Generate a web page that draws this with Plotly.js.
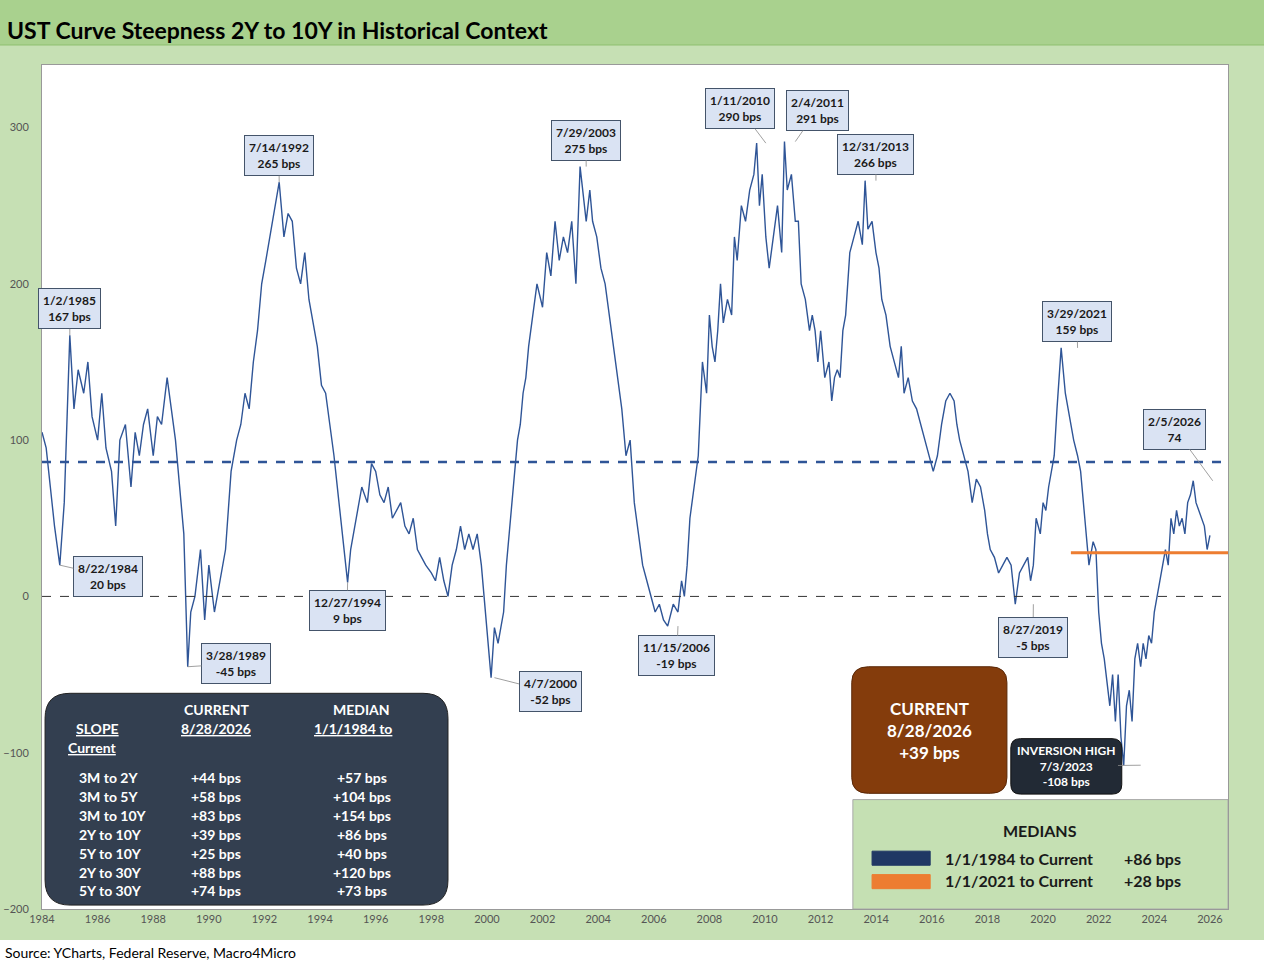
<!DOCTYPE html>
<html><head><script src="https://cdn.plot.ly/plotly-3.0.1.min.js"></script>
<style>body{margin:0;background:#fff}</style></head><body>
<div id="c" style="width:1264px;height:970px"></div>
<script>
const years=[1984.0,1984.15,1984.3,1984.45,1984.64,1984.8,1985.0,1985.15,1985.3,1985.5,1985.65,1985.8,1986.0,1986.15,1986.3,1986.5,1986.65,1986.8,1987.0,1987.2,1987.35,1987.5,1987.65,1987.8,1988.0,1988.15,1988.3,1988.5,1988.65,1988.8,1989.0,1989.1,1989.24,1989.35,1989.5,1989.7,1989.85,1990.0,1990.2,1990.4,1990.6,1990.8,1991.0,1991.15,1991.3,1991.45,1991.6,1991.75,1991.9,1992.05,1992.2,1992.35,1992.53,1992.7,1992.85,1993.0,1993.15,1993.3,1993.45,1993.6,1993.75,1993.9,1994.05,1994.2,1994.35,1994.5,1994.65,1994.8,1994.99,1995.1,1995.3,1995.5,1995.7,1995.85,1996.0,1996.15,1996.3,1996.45,1996.6,1996.75,1996.9,1997.05,1997.2,1997.35,1997.5,1997.65,1997.8,1998.0,1998.15,1998.3,1998.45,1998.6,1998.75,1998.9,1999.05,1999.2,1999.35,1999.5,1999.65,1999.8,2000.0,2000.15,2000.27,2000.4,2000.5,2000.6,2000.7,2000.9,2001.1,2001.2,2001.3,2001.4,2001.5,2001.65,2001.8,2002.0,2002.15,2002.3,2002.45,2002.6,2002.75,2002.9,2003.05,2003.2,2003.35,2003.57,2003.7,2003.8,2003.95,2004.1,2004.25,2004.4,2004.55,2004.7,2004.85,2005.0,2005.15,2005.3,2005.45,2005.6,2005.75,2005.9,2006.05,2006.2,2006.35,2006.5,2006.7,2006.87,2007.0,2007.1,2007.2,2007.3,2007.45,2007.6,2007.75,2007.9,2008.0,2008.1,2008.2,2008.3,2008.4,2008.5,2008.65,2008.8,2008.9,2009.0,2009.15,2009.3,2009.45,2009.6,2009.7,2009.8,2009.9,2010.03,2010.15,2010.3,2010.45,2010.6,2010.7,2010.8,2010.95,2011.09,2011.2,2011.3,2011.45,2011.6,2011.7,2011.8,2011.9,2012.0,2012.15,2012.3,2012.4,2012.5,2012.6,2012.7,2012.8,2012.9,2013.05,2013.2,2013.35,2013.5,2013.6,2013.7,2013.85,2013.99,2014.1,2014.2,2014.35,2014.5,2014.65,2014.8,2014.9,2015.0,2015.15,2015.3,2015.45,2015.6,2015.75,2015.9,2016.05,2016.2,2016.35,2016.5,2016.65,2016.8,2016.9,2017.0,2017.15,2017.3,2017.45,2017.6,2017.75,2017.9,2018.0,2018.1,2018.25,2018.4,2018.55,2018.7,2018.85,2019.0,2019.15,2019.3,2019.45,2019.55,2019.65,2019.75,2019.9,2020.0,2020.1,2020.2,2020.3,2020.4,2020.5,2020.65,2020.8,2020.9,2021.0,2021.1,2021.24,2021.35,2021.5,2021.65,2021.8,2021.9,2022.0,2022.1,2022.2,2022.3,2022.4,2022.5,2022.6,2022.7,2022.8,2022.9,2023.0,2023.1,2023.2,2023.3,2023.4,2023.51,2023.6,2023.7,2023.8,2023.9,2024.0,2024.1,2024.2,2024.3,2024.4,2024.5,2024.6,2024.7,2024.8,2024.9,2025.0,2025.1,2025.2,2025.3,2025.4,2025.5,2025.6,2025.7,2025.8,2025.9,2026.0,2026.1,2026.2,2026.3,2026.4,2026.5,2026.6,2026.65];
const spread=[105,95,70,45,20,60,167,120,145,130,150,115,100,130,95,80,45,100,110,70,105,90,110,120,90,115,110,140,120,100,60,40,-45,-10,0,30,-15,20,-10,10,30,80,100,110,130,120,150,170,200,215,230,245,265,230,245,240,210,200,220,190,175,160,135,130,110,90,65,40,9,30,50,70,60,85,80,65,60,70,50,55,60,45,40,50,30,25,20,15,10,25,10,0,20,30,45,30,40,30,40,20,-20,-52,-20,-30,-20,-10,20,60,100,110,130,140,160,180,200,185,220,205,240,215,230,220,240,200,275,240,260,240,230,210,200,180,160,140,120,90,100,60,40,20,10,0,-10,-5,-15,-19,-5,-10,10,0,20,50,70,90,150,130,180,160,150,170,200,175,190,180,230,215,250,240,260,270,290,250,270,230,210,230,250,220,291,260,270,240,240,200,190,170,180,170,150,170,140,150,125,140,145,140,170,180,220,230,240,225,266,235,240,220,210,190,180,160,150,140,160,130,140,125,120,110,100,90,80,90,110,125,130,125,110,100,90,80,60,75,70,55,40,30,25,15,20,25,20,-5,15,20,25,10,20,50,40,60,55,70,80,90,120,159,130,120,110,100,90,80,50,20,35,30,-10,-30,-40,-55,-70,-50,-80,-50,-90,-108,-70,-60,-80,-40,-30,-45,-30,-40,-25,-30,-10,0,10,20,30,20,50,40,55,45,50,40,60,65,74,60,55,50,45,30,39];
const medianAll=86, medianRecent=28;
const callDates=['1/2/1985','8/22/1984','3/28/1989','7/14/1992','12/27/1994','4/7/2000','7/29/2003','11/15/2006','1/11/2010','2/4/2011','12/31/2013','8/27/2019','3/29/2021','2/5/2026'];
const callVals=['167 bps','20 bps','-45 bps','265 bps','9 bps','-52 bps','275 bps','-19 bps','290 bps','291 bps','266 bps','-5 bps','159 bps','74'];
const callX=[1985.0,1984.64,1989.24,1992.53,1994.99,2000.27,2003.57,2006.87,2010.03,2011.09,2013.99,2019.65,2021.24,2026.1];
const callY=[167,20,-45,265,9,-52,275,-19,290,291,266,-5,159,74];
const boxX=[1985.0,1986.37,1990.98,1992.52,1994.97,2002.27,2003.56,2006.83,2009.1,2011.87,2013.99,2019.64,2021.22,2024.74];
const boxY=[184,13,-43,282,-9,-61,292,-38,312,311,283,-26,176,107];
const slopeNames=['3M to 2Y','3M to 5Y','3M to 10Y','2Y to 10Y','5Y to 10Y','2Y to 30Y','5Y to 30Y'];
const slopeCurrent=['+44 bps','+58 bps','+83 bps','+39 bps','+25 bps','+88 bps','+74 bps'];
const slopeMedian=['+57 bps','+104 bps','+154 bps','+86 bps','+40 bps','+120 bps','+73 bps'];

const F='Lato, "Open Sans", sans-serif';
const ann=[];
for(let i=0;i<callDates.length;i++){
 ann.push({x:callX[i],y:callY[i],ax:boxX[i],ay:boxY[i],axref:'x',ayref:'y',xref:'x',yref:'y',
  text:'<b>'+callDates[i]+'<br>'+callVals[i]+'</b>',showarrow:true,arrowhead:0,arrowwidth:0.8,arrowcolor:'#888',
  bgcolor:'#dae3f3',bordercolor:'#44546a',borderwidth:1,borderpad:4,font:{family:F,size:12,color:'#1a1a1a'}});
}
function t(x,y,text,opt){ann.push(Object.assign({x:x,y:y,xref:'x',yref:'y',text:text,showarrow:false,font:{family:F,size:14,color:'#fff'}},opt||{}));}
const rowY=[-115.7,-127.8,-139.9,-152.1,-164.2,-176.4,-187.9];
t(1990.26,-72.2,'<b>CURRENT</b>');t(1995.5,-72.2,'<b>MEDIAN</b>');
t(1986.0,-84.3,'<b><u>SLOPE</u></b>');t(1990.26,-84.3,'<b><u>8/28/2026</u></b>');t(1995.2,-84.3,'<b><u>1/1/1984 to</u></b>');
t(1985.8,-96.5,'<b><u>Current</u></b>');
for(let i=0;i<7;i++){t(1985.26,rowY[i],'<b>'+slopeNames[i]+'</b>',{xanchor:'left'});t(1990.26,rowY[i],'<b>'+slopeCurrent[i]+'</b>');t(1995.5,rowY[i],'<b>'+slopeMedian[i]+'</b>');}
t(2015.9,-86,'<b>CURRENT<br>8/28/2026<br>+39 bps</b>',{font:{family:F,size:17,color:'#fff'}});
ann.push({x:2023.51,y:-108,ax:2020.86,ay:-108.6,axref:'x',ayref:'y',xref:'x',yref:'y',showarrow:true,arrowhead:0,arrowwidth:0.8,arrowcolor:'#888',text:'<b>INVERSION HIGH<br>7/3/2023<br>-108 bps</b>',font:{family:F,size:12,color:'#fff'},bgcolor:'rgba(0,0,0,0)'});
t(2019.89,-149.5,'<b>MEDIANS</b>',{font:{family:F,size:16,color:'#1a1a1a'}});
t(2016.4,-167.4,'<b>1/1/1984 to Current</b>',{xanchor:'left',font:{family:F,size:16,color:'#1a1a1a'}});
t(2022.83,-167.4,'<b>+'+medianAll+' bps</b>',{xanchor:'left',font:{family:F,size:16,color:'#1a1a1a'}});
t(2016.4,-181.5,'<b>1/1/2021 to Current</b>',{xanchor:'left',font:{family:F,size:16,color:'#1a1a1a'}});
t(2022.83,-181.5,'<b>+'+medianRecent+' bps</b>',{xanchor:'left',font:{family:F,size:16,color:'#1a1a1a'}});
ann.push({xref:'paper',yref:'paper',x:-0.031,y:1.0415,xanchor:'left',yanchor:'middle',showarrow:false,text:'<b>UST Curve Steepness 2Y to 10Y in Historical Context</b>',font:{family:F,size:23,color:'#000'}});
ann.push({xref:'paper',yref:'paper',x:-0.033,y:-0.052,xanchor:'left',yanchor:'middle',showarrow:false,text:'Source: YCharts, Federal Reserve, Macro4Micro',font:{family:F,size:14,color:'#000'}});

function rr(x0,x1,y0,y1,rx,ry){return `M${x0+rx},${y0} L${x1-rx},${y0} Q${x1},${y0} ${x1},${y0+ry} L${x1},${y1-ry} Q${x1},${y1} ${x1-rx},${y1} L${x0+rx},${y1} Q${x0},${y1} ${x0},${y1-ry} L${x0},${y0+ry} Q${x0},${y0} ${x0+rx},${y0} Z`;}
const shapes=[
 {type:'rect',xref:'paper',yref:'paper',x0:-0.04,x1:1.04,y0:1.0237,y1:1.08,fillcolor:'#a9d18e',line:{color:'#8fbf70',width:1},layer:'below'},
 {type:'rect',xref:'paper',yref:'paper',x0:-0.04,x1:1.04,y0:-0.08,y1:-0.0367,fillcolor:'#ffffff',line:{width:0},layer:'below'},
 {type:'line',xref:'paper',yref:'y',x0:0,x1:1,y0:medianAll,y1:medianAll,line:{color:'#2f5597',width:2.5,dash:'dash'}},
 {type:'line',xref:'paper',yref:'y',x0:0,x1:1,y0:0,y1:0,line:{color:'#333',width:1,dash:'dash'}},
 {type:'line',xref:'x',yref:'y',x0:2021,x1:2026.65,y0:medianRecent,y1:medianRecent,line:{color:'#ed7d31',width:3}},
 {type:'path',xref:'x',yref:'y',path:rr(1984.11,1998.6,-197.5,-62,0.9,16),fillcolor:'#333f50',line:{color:'#222',width:1}},
 {type:'path',xref:'x',yref:'y',path:rr(2013.12,2018.7,-126,-45,0.6,10),fillcolor:'#843c0c',line:{color:'#5a2808',width:1}},
 {type:'path',xref:'x',yref:'y',path:rr(2018.84,2022.83,-126.5,-91,0.35,6),fillcolor:'#222a35',line:{color:'#111',width:1}},
 {type:'rect',xref:'x',yref:'y',x0:2013.16,x1:2026.65,y0:-200,y1:-130,fillcolor:'#c5e0b3',line:{color:'#aaa',width:1}},
 {type:'rect',xref:'x',yref:'y',x0:2013.85,x1:2015.94,y0:-172,y1:-163,fillcolor:'#203864',line:{color:'#203864',width:1}},
 {type:'rect',xref:'x',yref:'y',x0:2013.85,x1:2015.94,y0:-187,y1:-178,fillcolor:'#ed7d31',line:{color:'#ed7d31',width:1}}
];
Plotly.newPlot('c',[{x:years,y:spread,type:'scatter',mode:'lines',line:{color:'#2f5597',width:1.4},hoverinfo:'skip'}],{
 width:1264,height:970,margin:{l:42,r:36,t:65,b:61},paper_bgcolor:'#c6e0b4',plot_bgcolor:'#fff',showlegend:false,
 xaxis:{range:[1984,2026.65],dtick:2,tick0:1984,showgrid:false,zeroline:false,showline:true,mirror:true,linecolor:'#999',ticks:'',tickfont:{family:F,size:11,color:'#555'}},
 yaxis:{range:[-200,340],tickvals:[-200,-100,0,100,200,300],showgrid:false,zeroline:false,showline:true,mirror:true,linecolor:'#999',ticks:'',ticklabelstandoff:10,tickfont:{family:F,size:11,color:'#555'}},
 shapes:shapes,annotations:ann
},{staticPlot:true});
</script></body></html>
